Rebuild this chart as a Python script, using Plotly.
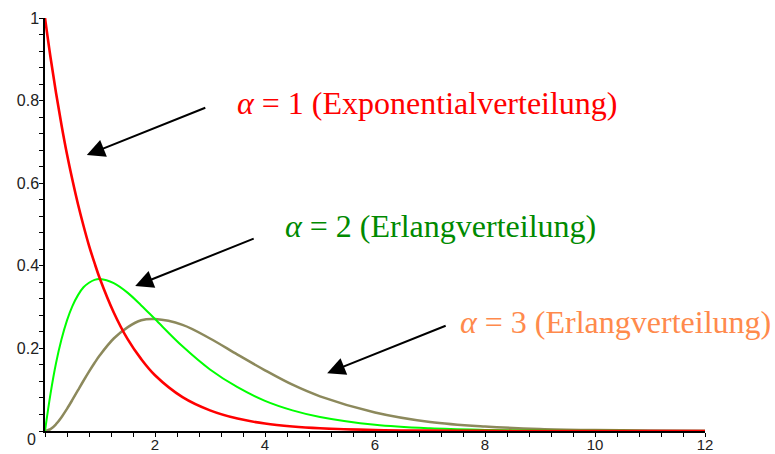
import plotly.graph_objects as go

# Sample positions along the x axis
x_vals = [0, 0.1, 0.2, 0.3, 0.4, 0.5, 0.6, 0.7, 0.8, 0.9, 1, 1.25, 1.5, 1.75, 2, 2.5, 3, 3.5, 4, 4.5,
          5, 6, 7, 8, 9, 10, 11, 12]

# Density values for the three shape parameters
alpha1 = [1.0, 0.905, 0.819, 0.741, 0.670, 0.607, 0.549, 0.497, 0.449, 0.407, 0.368, 0.287, 0.223,
          0.174, 0.135, 0.082, 0.050, 0.030, 0.018, 0.011, 0.0067, 0.0025, 0.0009, 0.0003, 0.0001,
          0.0, 0.0, 0.0]
alpha2 = [0.0, 0.090, 0.164, 0.222, 0.268, 0.303, 0.329, 0.348, 0.359, 0.366, 0.368, 0.358, 0.335,
          0.304, 0.271, 0.205, 0.149, 0.106, 0.073, 0.050, 0.034, 0.015, 0.0064, 0.0027, 0.0011,
          0.0005, 0.0002, 0.0001]
alpha3 = [0.0, 0.0045, 0.0164, 0.0333, 0.0536, 0.0758, 0.0988, 0.1217, 0.1438, 0.1647, 0.184, 0.224,
          0.251, 0.268, 0.271, 0.257, 0.224, 0.185, 0.147, 0.112, 0.084, 0.045, 0.022, 0.011, 0.005,
          0.0023, 0.001, 0.0004]

x_ticks = [2, 4, 6, 8, 10, 12]
y_ticks = [0.2, 0.4, 0.6, 0.8, 1]

labels = [
    "<i>α</i> = 1 (Exponentialverteilung)",
    "<i>α</i> = 2 (Erlangverteilung)",
    "<i>α</i> = 3 (Erlangverteilung)",
]

fig = go.Figure()
fig.add_trace(go.Scatter(x=x_vals, y=alpha3, mode="lines", line=dict(color="#8c895c", width=2.5, shape="spline"),
                         cliponaxis=False, showlegend=False))
fig.add_trace(go.Scatter(x=x_vals, y=alpha2, mode="lines", line=dict(color="#00ff00", width=2, shape="spline"),
                         cliponaxis=False, showlegend=False))
fig.add_trace(go.Scatter(x=x_vals, y=alpha1, mode="lines", line=dict(color="#ff0000", width=2.6, shape="spline"),
                         cliponaxis=False, showlegend=False))

tick_font = dict(family="Liberation Sans, Arial, sans-serif", size=16, color="#222")
x_tick_font = dict(family="Liberation Sans, Arial, sans-serif", size=15, color="#222")
label_font = "Liberation Serif, Times New Roman, serif"
label_size = 32

annotations = [
    # curve labels
    dict(x=3.45, y=0.794, text=labels[0], font=dict(family=label_font, size=label_size, color="#ff0000")),
    dict(x=4.33, y=0.496, text=labels[1], font=dict(family=label_font, size=label_size, color="#008a00")),
    dict(x=7.51, y=0.264, text=labels[2], font=dict(family=label_font, size=label_size, color="#ff8a4c")),
]
for a in annotations:
    a.update(xref="x", yref="y", xanchor="left", yanchor="middle", showarrow=False)

# arrows pointing at each curve
arrow_tips = [(0.76, 0.668), (1.64, 0.351), (5.13, 0.140)]
for tx, ty in arrow_tips:
    annotations.append(dict(x=tx, y=ty, xref="x", yref="y", ax=120, ay=-48, axref="pixel", ayref="pixel",
                            showarrow=True, arrowhead=2, arrowsize=1.8, arrowwidth=2, arrowcolor="black",
                            standoff=0, text=""))

# origin label
annotations.append(dict(x=0, y=0, xref="x", yref="y", text="0", showarrow=False, xanchor="right", yanchor="top",
                        xshift=-7, yshift=2, font=tick_font))

fig.update_layout(
    width=775, height=454,
    margin=dict(l=45, r=70, t=18, b=23),
    paper_bgcolor="white", plot_bgcolor="white",
    annotations=annotations,
    xaxis=dict(range=[0, 12], showgrid=False, zeroline=False, showline=True, linecolor="black", linewidth=1.5,
               tickvals=x_ticks, ticks="outside", ticklen=4, tickwidth=1, tickcolor="black", tickfont=x_tick_font,
               ticklabelstandoff=-5, automargin=False,
               minor=dict(dtick=0.4, tick0=0, ticks="outside", ticklen=4, tickcolor="black", showgrid=False)),
    yaxis=dict(range=[0, 1], showgrid=False, zeroline=False, showline=True, linecolor="black", linewidth=1.5,
               tickvals=y_ticks, ticks="outside", ticklen=4, tickwidth=1, tickcolor="black", tickfont=tick_font,
               ticklabelstandoff=-3, automargin=False,
               minor=dict(dtick=0.04, tick0=0, ticks="outside", ticklen=4, tickcolor="black", showgrid=False)),
)

fig.write_html("out.html")
